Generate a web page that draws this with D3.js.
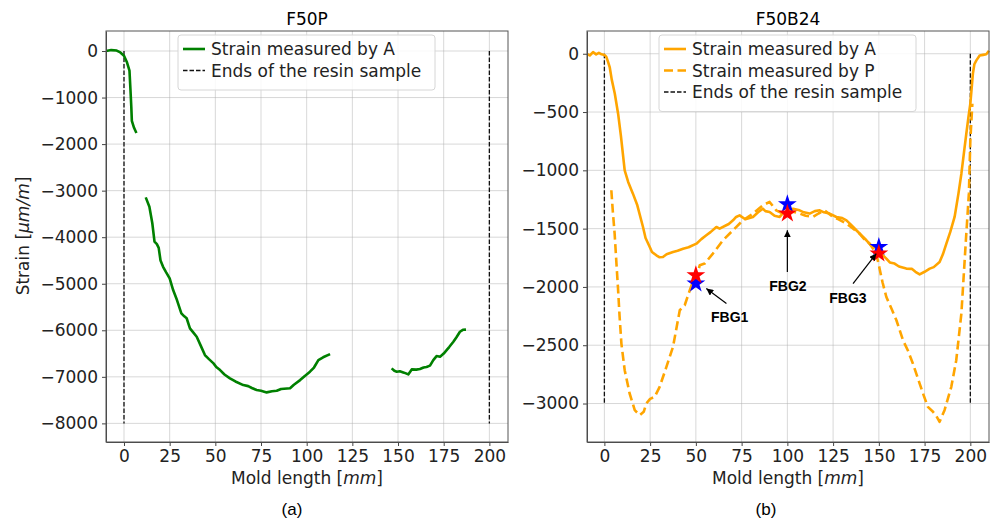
<!DOCTYPE html>
<html>
<head>
<meta charset="utf-8">
<script src="https://cdn.jsdelivr.net/npm/d3@7"></script>
<style>
  body { margin: 0; background: #fff; }
  svg { font-family: "DejaVu Sans", sans-serif; }
  .grid line { stroke: #b0b0b0; stroke-opacity: 0.55; stroke-width: 0.9; }
  .axis path, .axis line { stroke: #444; }
  .axis text { font-size: 17px; fill: #222; font-family: "DejaVu Sans", sans-serif; }
</style>
</head>
<body>
<script>
// ---- data ----
// F50P, strain measured by A (three pieces, gaps in between)
var f50p_a1 = [[-9.8,0],[-7,20],[-4,10],[-2,-30],[0,-100],[1.5,-230],[3,-420],[3.5,-800],[4,-1200],[4.3,-1500],[5.5,-1650],[6.8,-1760]];
var f50p_a2 = [[11.9,-3144],[13.9,-3345],[15.5,-3700],[16.7,-4097],[18,-4150],[19,-4230],[20,-4500],[21.4,-4635],[23,-4750],[25,-4885],[26.9,-5135],[29,-5350],[31.4,-5636],[33,-5700],[34.3,-5741],[36.1,-5959],[38,-6050],[39.8,-6138],[42,-6330],[44.3,-6532],[46.5,-6620],[49,-6711],[50.5,-6790],[52.6,-6855],[55,-6950],[58,-7033],[61,-7100],[65.3,-7177],[68,-7200],[70,-7240],[72.6,-7284],[75,-7300],[78.1,-7334],[81,-7310],[83.6,-7300],[86,-7260],[90.9,-7245],[93,-7170],[96.4,-7070],[99,-6980],[101.8,-6890],[104,-6800],[106.4,-6640],[109,-6580],[112.8,-6511]];
var f50p_a3 = [[146.5,-6818],[148,-6870],[149.3,-6890],[151,-6880],[152.9,-6905],[154,-6920],[155.6,-6948],[157.5,-6840],[160,-6845],[162,-6833],[164,-6800],[165.6,-6790],[167.5,-6760],[169.3,-6640],[171.1,-6554],[173,-6568],[175,-6500],[176.6,-6425],[178,-6360],[180.3,-6246],[182,-6150],[183.9,-6031],[185.5,-5990],[187.2,-5985]];

// F50B24, strain measured by A
var f50b_a = [[-9.5,0],[-8,-15],[-6.2,14],[-4.5,-5],[-3,8],[-1.5,-5],[0,-10],[1,-25],[2,-70],[2.9,-114],[4,-220],[5.7,-343],[7.5,-514],[9,-700],[11.1,-1000],[13,-1100],[15.6,-1200],[18,-1300],[21.1,-1486],[22.5,-1580],[24.8,-1657],[26,-1700],[28.4,-1729],[30,-1745],[32,-1743],[34,-1720],[37.5,-1700],[40,-1690],[43,-1672],[46,-1660],[50.3,-1629],[53,-1590],[55.7,-1557],[58,-1530],[61.2,-1486],[63,-1500],[66.6,-1471],[68,-1460],[70.3,-1429],[72,-1400],[73.9,-1386],[77,-1420],[81.2,-1400],[84,-1360],[86.6,-1329],[88,-1350],[90.3,-1357],[93,-1390],[95.8,-1400],[97.5,-1370],[99.5,-1357],[101,-1340],[103.1,-1329],[106.7,-1343],[109,-1360],[112.2,-1371],[115,-1350],[117.7,-1343],[120,-1360],[123.1,-1371],[126.8,-1400],[130,-1410],[132.3,-1429],[135,-1470],[137.7,-1514],[140,-1550],[143.2,-1600],[145.5,-1640],[147.7,-1657],[151,-1710],[154.1,-1757],[156,-1790],[158.6,-1800],[161,-1825],[165,-1843],[168,-1845],[170,-1870],[172.3,-1892],[175,-1870],[177.8,-1843],[180,-1830],[183.2,-1786],[185,-1720],[186.9,-1629],[189,-1530],[191.4,-1400],[193.5,-1200],[195.1,-1029],[196.5,-850],[197.8,-686],[199,-540],[200,-429],[201.4,-171],[202.2,-90],[203.3,-57],[205.1,-15],[207,-10],[208.7,-5],[210.2,25]];

// F50B24, strain measured by P
var f50b_p = [[3.8,-1171],[4.6,-1350],[5.6,-1543],[6.6,-1800],[7.4,-2000],[8.3,-2250],[9.3,-2486],[11.1,-2714],[13.8,-2914],[16.6,-3057],[19.3,-3100],[21.5,-3071],[22.9,-3000],[25,-2960],[27.5,-2943],[30.2,-2857],[33.9,-2686],[37.5,-2514],[41.2,-2200],[43.9,-2157],[47.6,-1986],[50.3,-1929],[52.1,-1814],[54.8,-1800],[59.3,-1714],[64.8,-1600],[70.3,-1514],[75.7,-1429],[81.2,-1371],[86.6,-1300],[90.3,-1271],[93.9,-1343],[97.5,-1371],[102,-1350],[106.7,-1371],[110,-1390],[114,-1400],[117,-1370],[120.4,-1343],[124.9,-1400],[128,-1420],[132.3,-1457],[136,-1500],[139.5,-1543],[142,-1590],[145,-1629],[148.6,-1714],[150.5,-1850],[152,-1960],[154.1,-2086],[157,-2190],[159.6,-2286],[163.2,-2457],[166,-2550],[168.6,-2657],[172.3,-2829],[174.5,-2930],[176.8,-3029],[179.6,-3071],[181.5,-3110],[183.2,-3157],[185.9,-3057],[189.6,-2857],[192.3,-2629],[195.1,-2229],[196.9,-1772],[197.8,-1543],[199.2,-1200],[200,-743],[201.1,-429]];

// FBG sensors (x, value)
var fbgX    = [50, 100, 150];
var fbgRed  = [-1900, -1371, -1714];
var fbgBlue = [-1971, -1291, -1657];
var fbgNames = ["FBG1", "FBG2", "FBG3"];
var fbgText = [[68.5,-2257],[100.3,-1994],[133.1,-2091]];
var fbgTail = [[66.7,-2143],[100,-1872],[135.9,-1971]];
var fbgTip  = [[55.7,-2014],[100,-1514],[148.6,-1714]];

var xTicks = [0,25,50,75,100,125,150,175,200];
var yTicksP = [0,-1000,-2000,-3000,-4000,-5000,-6000,-7000,-8000];
var yTicksB = [0,-500,-1000,-1500,-2000,-2500,-3000];
var resinEnds = [0, 200];

var svg = d3.select("body").append("svg")
    .attr("width", 992).attr("height", 522);

var defs = svg.append("defs");
defs.append("marker")
    .attr("id", "arrow").attr("viewBox", "0 0 10 10")
    .attr("refX", 10).attr("refY", 5)
    .attr("markerWidth", 7).attr("markerHeight", 7)
    .attr("markerUnits", "userSpaceOnUse")
    .attr("orient", "auto")
  .append("path").attr("d", "M0,0 L10,5 L0,10 z").attr("fill", "#000");

function minus(v) { return String(v).replace("-", "\u2212"); }

function panel(opt) {
  var x = d3.scaleLinear().domain(opt.xDom).range([opt.left, opt.right]);
  var y = d3.scaleLinear().domain(opt.yDom).range([opt.bottom, opt.top]);
  var g = svg.append("g");

  // grid
  var grid = g.append("g").attr("class", "grid");
  grid.selectAll(".gx").data(xTicks).enter().append("line")
      .attr("x1", d => x(d)).attr("x2", d => x(d))
      .attr("y1", opt.top).attr("y2", opt.bottom);
  grid.selectAll(".gy").data(opt.yTicks).enter().append("line")
      .attr("x1", opt.left).attr("x2", opt.right)
      .attr("y1", d => y(d)).attr("y2", d => y(d));

  // resin sample ends
  g.selectAll(".ends").data(resinEnds).enter().append("line")
      .attr("x1", d => x(d)).attr("x2", d => x(d))
      .attr("y1", y(0)).attr("y2", y(opt.endBottom))
      .attr("stroke", "#111").attr("stroke-width", 1.3)
      .attr("stroke-dasharray", "4.5,2");

  var line = d3.line().x(d => x(d[0])).y(d => y(d[1]));
  opt.series.forEach(function(s) {
    g.append("path").datum(s.data)
        .attr("d", line)
        .attr("fill", "none")
        .attr("stroke", s.color)
        .attr("stroke-width", 2.6)
        .attr("stroke-linejoin", "round")
        .attr("stroke-dasharray", s.dash || null);
  });

  // axes
  g.append("g").attr("class", "axis")
      .attr("transform", "translate(0," + opt.bottom + ")")
      .call(d3.axisBottom(x).tickValues(xTicks).tickSize(4).tickPadding(4).tickSizeOuter(0));
  g.append("g").attr("class", "axis")
      .attr("transform", "translate(" + opt.left + ",0)")
      .call(d3.axisLeft(y).tickValues(opt.yTicks).tickFormat(minus).tickSize(4).tickPadding(4).tickSizeOuter(0));
  g.append("rect")
      .attr("x", opt.left).attr("y", opt.top)
      .attr("width", opt.right - opt.left).attr("height", opt.bottom - opt.top)
      .attr("fill", "none").attr("stroke", "#555").attr("stroke-width", 1);

  // title
  g.append("text").attr("x", (opt.left + opt.right) / 2).attr("y", 25)
      .attr("text-anchor", "middle").attr("font-size", 17).text(opt.title);

  // x label
  var xl = g.append("text").attr("x", (opt.left + opt.right) / 2).attr("y", 484)
      .attr("text-anchor", "middle").attr("font-size", 17).attr("fill", "#222");
  xl.append("tspan").text("Mold length [");
  xl.append("tspan").attr("font-style", "italic").text("mm");
  xl.append("tspan").text("]");

  // caption
  g.append("text").attr("x", opt.capX).attr("y", 515)
      .attr("text-anchor", "middle").attr("font-size", 17)
      .attr("font-family", "Liberation Sans, Arial, sans-serif").text(opt.caption);

  // legend
  var lg = g.append("g").attr("transform", "translate(" + opt.legX + "," + opt.legY + ")");
  lg.append("rect").attr("width", 257).attr("height", 12 + opt.legend.length * 21.5)
      .attr("rx", 3).attr("fill", "#fff").attr("fill-opacity", 0.85)
      .attr("stroke", "#d6d6d6");
  opt.legend.forEach(function(l, i) {
    var yy = 14 + i * 21.5;
    lg.append("line").attr("x1", 5).attr("x2", 27).attr("y1", yy).attr("y2", yy)
        .attr("stroke", l.color).attr("stroke-width", l.width)
        .attr("stroke-dasharray", l.dash || null);
    lg.append("text").attr("x", 33).attr("y", yy + 6).attr("font-size", 17)
        .attr("fill", "#222").text(l.label);
  });

  return {x: x, y: y, g: g};
}

var resinLegend = {label: "Ends of the resin sample", color: "#111", width: 1.3, dash: "4.5,2"};

panel({
  left: 106, right: 508, top: 31, bottom: 442,
  xDom: [-9.85, 210.2], yDom: [-8400, 430],
  yTicks: yTicksP, endBottom: -8000,
  title: "F50P", caption: "(a)", capX: 292,
  series: [
    {data: f50p_a1, color: "green"},
    {data: f50p_a2, color: "green"},
    {data: f50p_a3, color: "green"}
  ],
  legX: 178, legY: 35,
  legend: [{label: "Strain measured by A", color: "green", width: 2.6}, resinLegend]
});

var pb = panel({
  left: 587, right: 989, top: 31, bottom: 442,
  xDom: [-9.5, 210.2], yDom: [-3330, 195],
  yTicks: yTicksB, endBottom: -3000,
  title: "F50B24", caption: "(b)", capX: 766,
  series: [
    {data: f50b_a, color: "orange"},
    {data: f50b_p, color: "orange", dash: "9,4.5"}
  ],
  legX: 659, legY: 35,
  legend: [
    {label: "Strain measured by A", color: "orange", width: 2.6},
    {label: "Strain measured by P", color: "orange", width: 2.6, dash: "9,4.5"},
    resinLegend
  ]
});

// FBG stars and annotations
var star = d3.symbol().type(d3.symbolStar).size(110);
fbgX.forEach(function(fx, i) {
  pb.g.append("path").attr("d", star)
      .attr("transform", "translate(" + pb.x(fx) + "," + pb.y(fbgBlue[i]) + ")")
      .attr("fill", "blue");
  pb.g.append("path").attr("d", star)
      .attr("transform", "translate(" + pb.x(fx) + "," + pb.y(fbgRed[i]) + ")")
      .attr("fill", "red");
  pb.g.append("line")
      .attr("x1", pb.x(fbgTail[i][0])).attr("y1", pb.y(fbgTail[i][1]))
      .attr("x2", pb.x(fbgTip[i][0])).attr("y2", pb.y(fbgTip[i][1]))
      .attr("stroke", "#000").attr("stroke-width", 1.2)
      .attr("marker-end", "url(#arrow)");
  pb.g.append("text")
      .attr("x", pb.x(fbgText[i][0])).attr("y", pb.y(fbgText[i][1]) + 5)
      .attr("text-anchor", "middle")
      .attr("font-family", "Liberation Sans, Arial, sans-serif")
      .attr("font-weight", "bold").attr("font-size", 14)
      .text(fbgNames[i]);
});

// y label (left panel only)
var yl = svg.append("text")
    .attr("transform", "translate(29,236) rotate(-90)")
    .attr("text-anchor", "middle").attr("font-size", 17).attr("fill", "#222");
yl.append("tspan").text("Strain [");
yl.append("tspan").attr("font-style", "italic").text("\u03bcm/m");
yl.append("tspan").text("]");
</script>
</body>
</html>
